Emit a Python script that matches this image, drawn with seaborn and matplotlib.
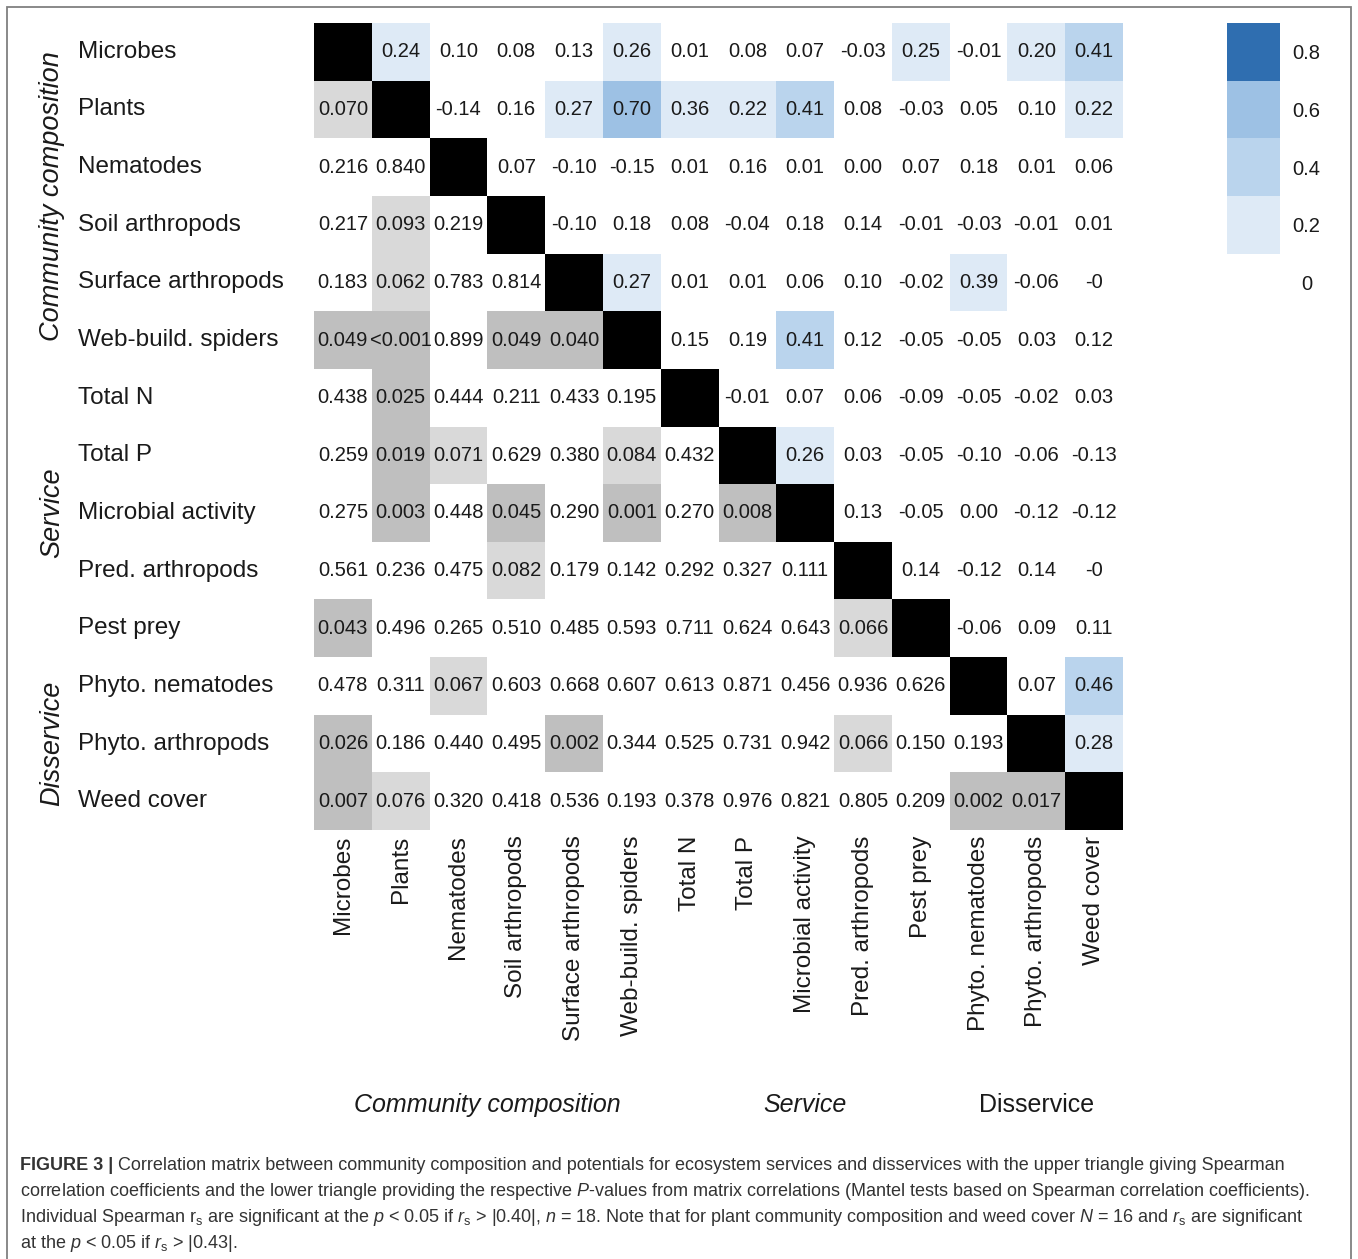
import numpy as np
import pandas as pd
import matplotlib
matplotlib.use("Agg")
import matplotlib.pyplot as plt
from matplotlib.colors import ListedColormap
from matplotlib.patches import Rectangle
from matplotlib.transforms import blended_transform_factory
import seaborn as sns

# ---------------------------------------------------------------- data
variables = [
    "Microbes", "Plants", "Nematodes", "Soil arthropods", "Surface arthropods",
    "Web-build. spiders", "Total N", "Total P", "Microbial activity",
    "Pred. arthropods", "Pest prey", "Phyto. nematodes", "Phyto. arthropods",
    "Weed cover",
]

# Spearman r_s, upper triangle, row by row (columns to the right of the diagonal)
spearman_upper = [
    [0.24, 0.10, 0.08, 0.13, 0.26, 0.01, 0.08, 0.07, -0.03, 0.25, -0.01, 0.20, 0.41],
    [-0.14, 0.16, 0.27, 0.70, 0.36, 0.22, 0.41, 0.08, -0.03, 0.05, 0.10, 0.22],
    [0.07, -0.10, -0.15, 0.01, 0.16, 0.01, 0.00, 0.07, 0.18, 0.01, 0.06],
    [-0.10, 0.18, 0.08, -0.04, 0.18, 0.14, -0.01, -0.03, -0.01, 0.01],
    [0.27, 0.01, 0.01, 0.06, 0.10, -0.02, 0.39, -0.06, -0.0],
    [0.15, 0.19, 0.41, 0.12, -0.05, -0.05, 0.03, 0.12],
    [-0.01, 0.07, 0.06, -0.09, -0.05, -0.02, 0.03],
    [0.26, 0.03, -0.05, -0.10, -0.06, -0.13],
    [0.13, -0.05, 0.00, -0.12, -0.12],
    [0.14, -0.12, 0.14, -0.0],
    [-0.06, 0.09, 0.11],
    [0.07, 0.46],
    [0.28],
]

# Mantel-test P-values, lower triangle, row by row (columns left of the diagonal)
# 0.0005 stands for a value below 0.001
mantel_lower = [
    [0.070],
    [0.216, 0.840],
    [0.217, 0.093, 0.219],
    [0.183, 0.062, 0.783, 0.814],
    [0.049, 0.0005, 0.899, 0.049, 0.040],
    [0.438, 0.025, 0.444, 0.211, 0.433, 0.195],
    [0.259, 0.019, 0.071, 0.629, 0.380, 0.084, 0.432],
    [0.275, 0.003, 0.448, 0.045, 0.290, 0.001, 0.270, 0.008],
    [0.561, 0.236, 0.475, 0.082, 0.179, 0.142, 0.292, 0.327, 0.111],
    [0.043, 0.496, 0.265, 0.510, 0.485, 0.593, 0.711, 0.624, 0.643, 0.066],
    [0.478, 0.311, 0.067, 0.603, 0.668, 0.607, 0.613, 0.871, 0.456, 0.936, 0.626],
    [0.026, 0.186, 0.440, 0.495, 0.002, 0.344, 0.525, 0.731, 0.942, 0.066, 0.150, 0.193],
    [0.007, 0.076, 0.320, 0.418, 0.536, 0.193, 0.378, 0.976, 0.821, 0.805, 0.209, 0.002, 0.017],
]

group_names = ["Community composition", "Service", "Disservice"]
group_sizes = [6, 5, 3]

legend_levels = [0.8, 0.6, 0.4, 0.2, 0.0]
legend_labels = ["0.8", "0.6", "0.4", "0.2", "0"]

# ---------------------------------------------------------------- styling
r_bins = [0.2, 0.4, 0.6, 0.8]
palette = [
    "#ffffff",   # r < 0.2
    "#deeaf6",   # 0.2 - 0.4
    "#bad4ed",   # 0.4 - 0.6
    "#9dc1e4",   # 0.6 - 0.8
    "#2f6eb0",   # >= 0.8
    "#d9d9d9",   # 0.05 <= P < 0.1
    "#bfbfbf",   # P < 0.05
    "#000000",   # diagonal
]
cmap = ListedColormap(palette)

plt.rcParams["font.family"] = ["Liberation Sans", "DejaVu Sans"]
plt.rcParams["mathtext.fontset"] = "custom"
plt.rcParams["mathtext.rm"] = "Liberation Sans"
plt.rcParams["mathtext.it"] = "Liberation Sans:italic"
plt.rcParams["mathtext.bf"] = "Liberation Sans:bold"


def r_code(r):
    return int(np.digitize(r, r_bins))


def p_code(p):
    if p < 0.05:
        return 6
    if p < 0.1:
        return 5
    return 0


def r_text(r):
    if r == 0 and np.signbit(r):
        return "-0"
    return f"{r:.2f}"


def p_text(p):
    return "<0.001" if p < 0.001 else f"{p:.3f}"


n = len(variables)
codes = np.zeros((n, n), dtype=int)
labels = np.full((n, n), "", dtype=object)
for i in range(n):
    codes[i, i] = 7
    for k, r in enumerate(spearman_upper[i] if i < n - 1 else []):
        j = i + 1 + k
        codes[i, j] = r_code(r)
        labels[i, j] = r_text(r)
    if i > 0:
        for j, p in enumerate(mantel_lower[i - 1]):
            codes[i, j] = p_code(p)
            labels[i, j] = p_text(p)

codes_df = pd.DataFrame(codes, index=variables, columns=variables)

# ---------------------------------------------------------------- figure
W, H = 1358, 1259
fig = plt.figure(figsize=(W / 100, H / 100), dpi=100)
fig.patch.set_facecolor("white")

ax = fig.add_axes([314 / W, 1 - 830 / H, 809 / W, 807 / H])
sns.heatmap(
    codes_df, ax=ax, cmap=cmap, vmin=-0.5, vmax=len(palette) - 0.5,
    cbar=False, annot=labels, fmt="",
    annot_kws=dict(fontsize=14.5, color="#1a1a1a"),
    xticklabels=True, yticklabels=True, linewidths=0,
)
ax.tick_params(axis="both", length=0, labelsize=17.5, colors="#1a1a1a")
ax.tick_params(axis="y", pad=170)
ax.tick_params(axis="x", pad=4)
ax.set_yticklabels(variables, rotation=0, ha="left")
ax.set_xticklabels(variables, rotation=90, ha="center", va="top")
ax.set_xlabel("")
ax.set_ylabel("")

# group labels along the left and the bottom
starts = np.cumsum([0] + group_sizes[:-1])
left_tr = blended_transform_factory(fig.transFigure, ax.transData)
bottom_tr = blended_transform_factory(ax.transData, fig.transFigure)
for k, (name, s, size) in enumerate(zip(group_names, starts, group_sizes)):
    centre = s + size / 2
    ax.text(52 / W, centre, name, transform=left_tr, rotation=90,
            ha="center", va="center", fontsize=19.5, style="italic",
            color="#1a1a1a")
    ax.text(centre, 1 - 1105 / H, name, transform=bottom_tr,
            ha="center", va="center", fontsize=18,
            style="italic" if k < 2 else "normal", color="#1a1a1a")

# discrete colour key
lax = fig.add_axes([1227 / W, 1 - 311.5 / H, 53 / W, 288.5 / H])
legend_df = pd.DataFrame({"r": [r_code(v) for v in legend_levels]},
                         index=legend_labels)
sns.heatmap(legend_df, ax=lax, cmap=cmap, vmin=-0.5, vmax=len(palette) - 0.5,
            cbar=False, xticklabels=False, yticklabels=True, linewidths=0)
lax.yaxis.tick_right()
lax.tick_params(axis="y", length=0, labelsize=14.5, pad=19, colors="#1a1a1a")
lax.set_yticklabels(legend_labels, rotation=0, ha="center")
lax.set_ylabel("")

# frame around the panel
fig.add_artist(Rectangle((7 / W, -0.01), (1351 - 7) / W, 1 - 7 / H + 0.01,
                         transform=fig.transFigure, fill=False,
                         edgecolor="#808080", linewidth=1.3))

# caption
cap_kw = dict(fontsize=13, color="#333333", va="center", ha="left")
x0 = 20 / W
t_bold = fig.text(x0, 1 - 1166 / H, "FIGURE 3 |", fontweight="bold", **cap_kw)
fig.canvas.draw()
bb = t_bold.get_window_extent(renderer=fig.canvas.get_renderer())
fig.text(bb.x1 / W + 5 / W, 1 - 1166 / H,
         "Correlation matrix between community composition and potentials for "
         "ecosystem services and disservices with the upper triangle giving Spearman",
         **cap_kw)
fig.text(x0, 1 - 1191 / H,
         "correlation coefficients and the lower triangle providing the respective "
         "$P$-values from matrix correlations (Mantel tests based on Spearman "
         "correlation coefficients).", **cap_kw)
fig.text(x0, 1 - 1217 / H,
         r"Individual Spearman $\mathrm{r}_\mathrm{s}$ are significant at the $p$ < 0.05 "
         r"if $r_\mathrm{s}$ > |0.40|, $n$ = 18. Note that for plant community "
         r"composition and weed cover $N$ = 16 and $r_\mathrm{s}$ are significant",
         **cap_kw)
fig.text(x0, 1 - 1243 / H,
         r"at the $p$ < 0.05 if $r_\mathrm{s}$ > |0.43|.", **cap_kw)

fig.savefig("out.png", dpi=100, facecolor="white")
